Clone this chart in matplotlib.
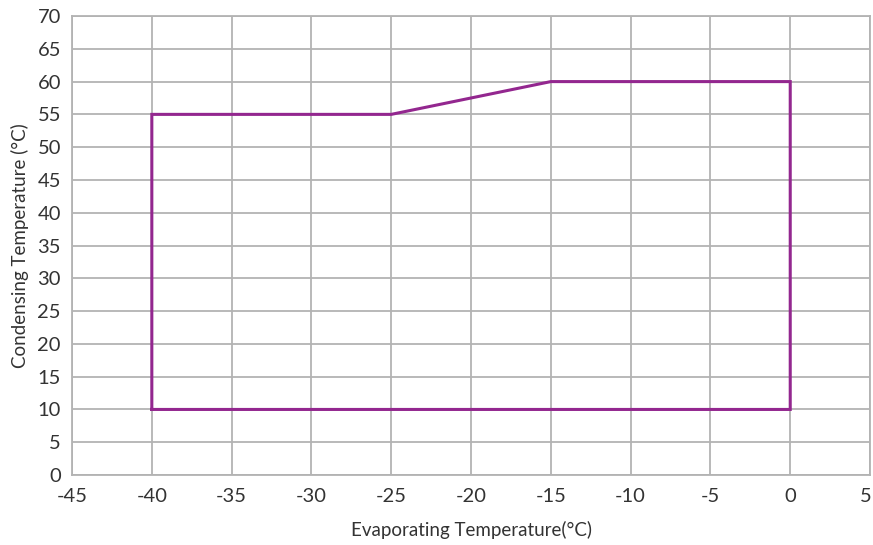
import matplotlib
matplotlib.use("Agg")
import matplotlib.pyplot as plt
from matplotlib.transforms import ScaledTranslation

# Envelope boundary (evaporating, condensing)
evap = [-40, -40, -25, -15, 0, 0, -40]
cond = [10, 55, 55, 60, 60, 10, 10]

xticks = list(range(-45, 10, 5))
yticks = list(range(0, 75, 5))

plt.rcParams['font.family'] = ['Lato', 'DejaVu Sans']

fig = plt.figure(figsize=(8.73, 5.45), dpi=100)
ax = fig.add_axes([0.0825, 0.1284, 0.9141, 0.8422])

ax.plot(evap, cond, color='#93278F', lw=2.2, solid_joinstyle='miter', zorder=3)

ax.set_xlim(-45, 5)
ax.set_ylim(0, 70)
ax.set_xticks(xticks)
ax.set_yticks(yticks)
ax.set_xticklabels([str(v) for v in xticks])
ax.set_yticklabels([str(v) for v in yticks])
ax.grid(True, color='#b3b3b3', lw=1.3)
ax.set_axisbelow(True)
for s in ax.spines.values():
    s.set_color('#b3b3b3')
    s.set_linewidth(1.3)
ax.tick_params(axis='both', length=0, labelsize=14.5, colors='#333333')
ax.tick_params(axis='x', pad=9)
ax.tick_params(axis='y', pad=8)
last = ax.get_xticklabels()[-1]
last.set_transform(last.get_transform() + ScaledTranslation(-4/100, 0, fig.dpi_scale_trans))
ax.set_xlabel('Evaporating Temperature(°C)', fontsize=13.5, color='#333333', labelpad=12)
ax.set_ylabel('Condensing Temperature (°C)', fontsize=13.5, color='#333333', labelpad=6)

fig.savefig('out.png', dpi=100)
